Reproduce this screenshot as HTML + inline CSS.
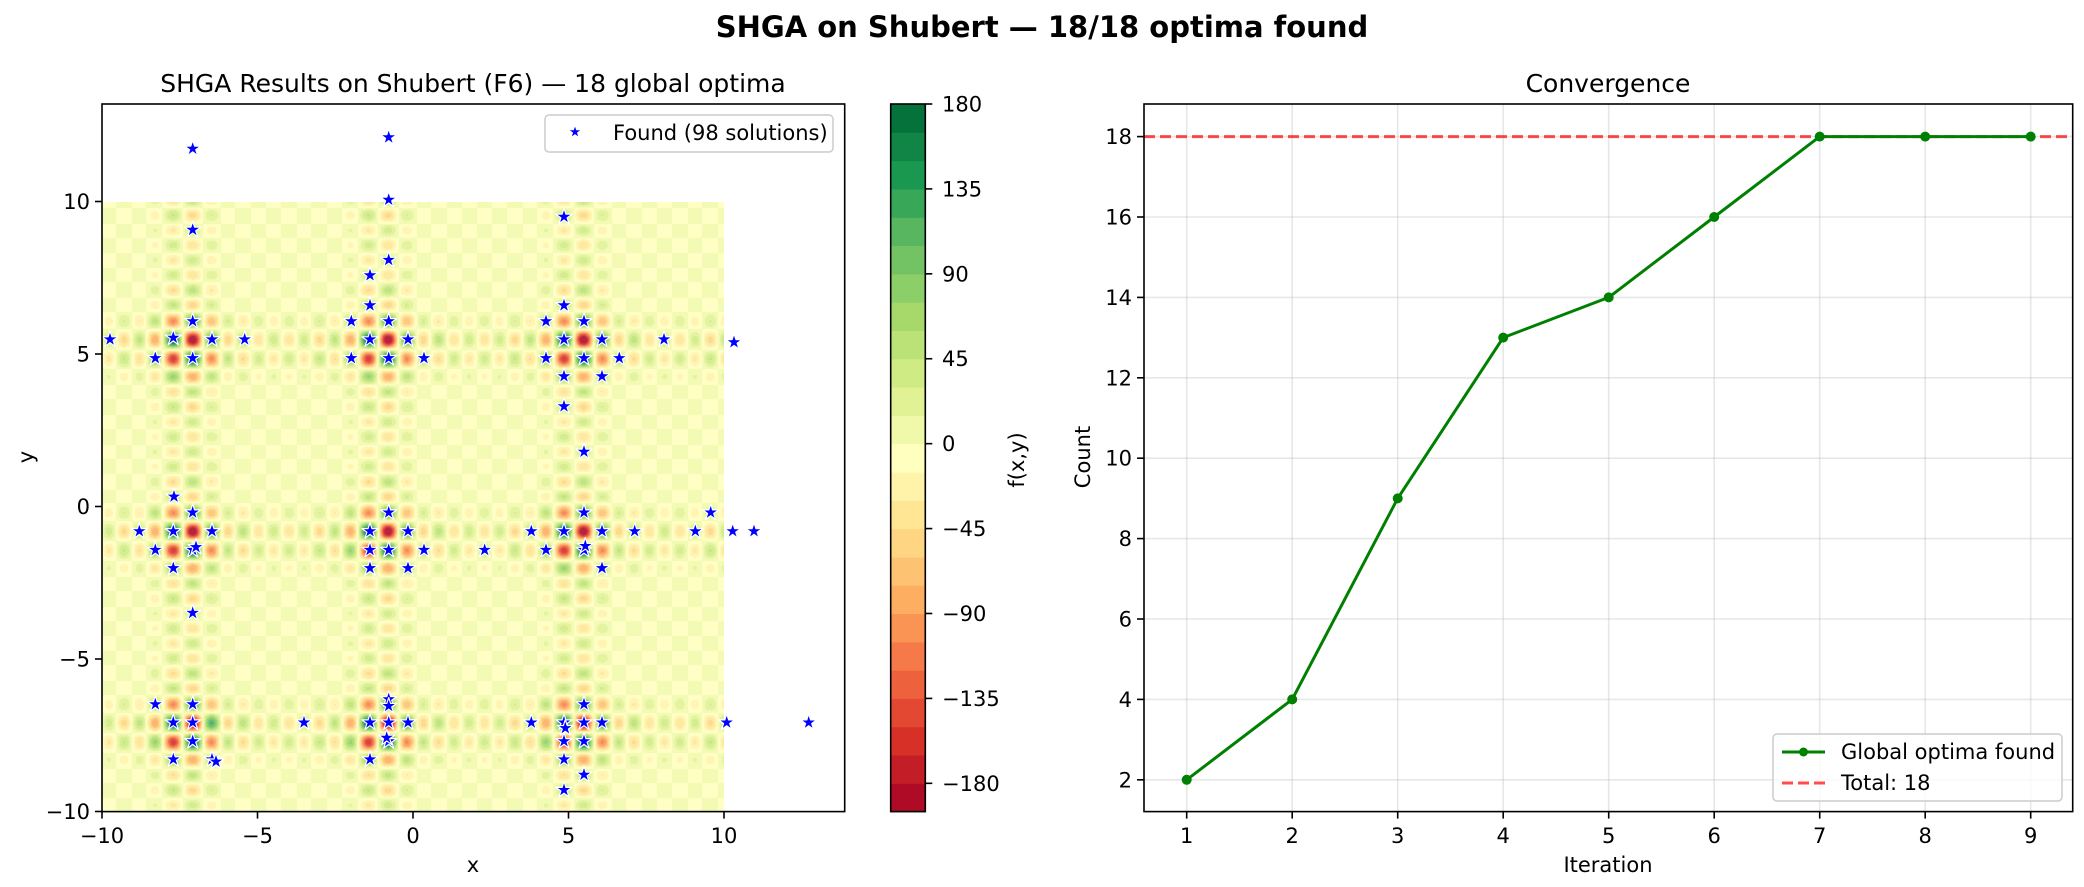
<!DOCTYPE html>
<html><head><meta charset="utf-8">
<style>
html,body{margin:0;padding:0;background:#fff;}
#wrap{position:relative;width:2084px;height:887px;overflow:hidden;background:#fff;}
svg{position:absolute;left:0;top:0;}
canvas{position:absolute;left:102px;top:202px;}
text{font-family:"DejaVu Sans","Liberation Sans",sans-serif;fill:#000;}
</style></head>
<body><div id="wrap">
<canvas id="hm" width="622" height="610"></canvas>
<svg id="sv" width="2084" height="887" viewBox="0 0 2084 887">
<text x="1042" y="37" font-size="29" font-weight="bold" text-anchor="middle">SHGA on Shubert — 18/18 optima found</text>
<text x="473" y="92" font-size="25" text-anchor="middle">SHGA Results on Shubert (F6) — 18 global optima</text>
<text x="1608" y="92" font-size="25" text-anchor="middle">Convergence</text>
<g id="left"></g>
<g id="cbar"></g>
<g id="right"></g>
<text x="473" y="872" font-size="21" text-anchor="middle">x</text>
<text x="1608" y="872" font-size="21" text-anchor="middle">Iteration</text>
<text transform="translate(33,457) rotate(-90)" font-size="21" text-anchor="middle">y</text>
<text transform="translate(1090,457) rotate(-90)" font-size="21" text-anchor="middle">Count</text>
<text transform="translate(1024,460) rotate(-90)" font-size="21" text-anchor="middle">f(x,y)</text>
<rect x="545" y="115" width="288" height="37" rx="4" fill="#fff" fill-opacity="0.8" stroke="#ccc" stroke-width="1.5"/>
<g id="legstar"></g>
<text x="613" y="140" font-size="21">Found (98 solutions)</text>
<rect x="1773" y="734" width="289" height="67" rx="4" fill="#fff" fill-opacity="0.8" stroke="#ccc" stroke-width="1.5"/>
<line x1="1782" y1="752" x2="1825" y2="752" stroke="#008000" stroke-width="3"/>
<circle cx="1803.5" cy="752" r="4.5" fill="#008000"/>
<text x="1841" y="759" font-size="21">Global optima found</text>
<line x1="1782" y1="783" x2="1825" y2="783" stroke="#ff0000" stroke-opacity="0.7" stroke-width="3" stroke-dasharray="11,5"/>
<text x="1841" y="790" font-size="21">Total: 18</text>
</svg>
</div>
<script>
(function(){
var cm=[[0,[165,0,38]],[0.1,[215,48,39]],[0.2,[244,109,67]],[0.3,[253,174,97]],[0.4,[254,224,139]],[0.5,[255,255,191]],[0.6,[217,239,139]],[0.7,[166,217,106]],[0.8,[102,189,99]],[0.9,[26,152,80]],[1,[0,104,55]]];
function cmap(t){for(var i=0;i<cm.length-1;i++){if(t<=cm[i+1][0]){var a=cm[i],b=cm[i+1],u=(t-a[0])/(b[0]-a[0]);return [0,1,2].map(function(k){return Math.round(a[1][k]+(b[1][k]-a[1][k])*u);});}}return cm[10][1];}
var band=[];for(var b=0;b<25;b++)band.push(cmap((b+0.5)/25));
function g(x){var s=0;for(var k=1;k<=5;k++)s+=k*Math.cos((k+1)*x+k);return s;}
var c=document.getElementById('hm'),ctx=c.getContext('2d'),W=622,H=610;
var img=ctx.createImageData(W,H),d=img.data,gx=[],gy=[];
for(var i=0;i<W;i++)gx.push(g(-10+(i+0.5)/W*20));
for(var j=0;j<H;j++)gy.push(g(10-(j+0.5)/H*20));
var al=0.9;
for(var j=0;j<H;j++)for(var i=0;i<W;i++){var f=-gx[i]*gy[j];var bi=Math.floor((f+195)/15);if(bi<0)bi=0;if(bi>24)bi=24;var col=band[bi],p=(j*W+i)*4;
d[p]=Math.round(col[0]*al+255*(1-al));d[p+1]=Math.round(col[1]*al+255*(1-al));d[p+2]=Math.round(col[2]*al+255*(1-al));d[p+3]=255;}
ctx.putImageData(img,0,0);

var NS='http://www.w3.org/2000/svg';
function el(parent,tag,attrs,txt){var e=document.createElementNS(NS,tag);for(var k in attrs)e.setAttribute(k,attrs[k]);if(txt!==undefined)e.textContent=txt;parent.appendChild(e);return e;}
function star(cx,cy,R){var r=R*0.38,pts=[];for(var k=0;k<10;k++){var a=-Math.PI/2+k*Math.PI/5,rr=k%2?r:R;pts.push((cx+rr*Math.cos(a)).toFixed(1)+','+(cy+rr*Math.sin(a)).toFixed(1));}return pts.join(' ');}
var L=document.getElementById('left');
var xl=102,xr=844.7,yt=104,yb=811.6;
function X(v){return 413+v*31.1;} function Y(v){return 506.5-v*30.5;}
[-10,-5,0,5,10].forEach(function(v){var x=X(v);el(L,'line',{x1:x,y1:yb,x2:x,y2:yb+7,stroke:'#000','stroke-width':1.6});el(L,'text',{x:x,y:843,'font-size':21,'text-anchor':'middle'},(v<0?'\u2212':'')+Math.abs(v));});
[-10,-5,0,5,10].forEach(function(v){var y=Y(v);el(L,'line',{x1:xl-7,y1:y,x2:xl,y2:y,stroke:'#000','stroke-width':1.6});el(L,'text',{x:90,y:y+7.5,'font-size':21,'text-anchor':'end'},(v<0?'\u2212':'')+Math.abs(v));});
var S=[[289,262],[583,242],[583,352],[289,405],[846,382],[583,458],[555,485],[555,538],[846,538],
[289,566],[527,566],[583,566],[819,566],[876,566],
[165,598],[260,595],[318,598],[367,598],[555,598],[612,598],[846,598],[903,598],[996,598],[1101,603],
[233,631],[289,631],[527,631],[583,631],[636,631],[819,631],[876,631],[929,631],
[846,663],[903,663],[846,716],[876,796],
[261,875],[289,903],[583,903],[876,903],[1066,903],
[209,936],[260,936],[318,936],[555,936],[612,936],[797,936],[846,936],[903,936],[952,936],[1043,936],[1099,936],[1131,936],
[233,969],[289,969],[294,964],[555,969],[583,969],[636,969],[727,969],[819,969],[876,969],[878,962],
[260,1001],[555,1001],[612,1001],[903,1001],[289,1080],
[233,1241],[289,1241],[583,1232],[583,1244],[876,1241],
[260,1273],[289,1273],[456,1273],[555,1273],[583,1273],[612,1273],[797,1273],[846,1273],[876,1273],[903,1273],[1090,1273],[1213,1273],[848,1283],
[289,1306],[583,1306],[876,1306],[580,1300],[846,1306],
[260,1338],[318,1338],[324,1342],[555,1338],[846,1338],[876,1365],[846,1392]];
S.forEach(function(p){el(L,'polygon',{points:star(p[0]/1.5,p[1]/1.762,8.5),fill:'#0000ff',stroke:'#fff','stroke-width':1.2,'stroke-linejoin':'round'});});
el(L,'rect',{x:xl,y:yt,width:xr-xl,height:yb-yt,fill:'none',stroke:'#000','stroke-width':1.6});
el(document.getElementById('legstar'),'polygon',{points:star(575,132,7),fill:'#0000ff',stroke:'#fff','stroke-width':1});

var C=document.getElementById('cbar');var cx0=890.7,cw=34.6,ph=707.6/25;
for(var b=0;b<25;b++){var col=band[b];el(C,'rect',{x:cx0,y:(811.6-(b+1)*ph).toFixed(2),width:cw,height:(ph+0.6).toFixed(2),fill:'rgb('+col.join(',')+')'});}
el(C,'rect',{x:cx0,y:104,width:cw,height:707.6,fill:'none',stroke:'#000','stroke-width':1.6});
[180,135,90,45,0,-45,-90,-135,-180].forEach(function(v){var y=104+(180-v)*1.887;el(C,'line',{x1:cx0+cw,y1:y,x2:cx0+cw+7,y2:y,stroke:'#000','stroke-width':1.6});el(C,'text',{x:942,y:y+7.5,'font-size':21},(v<0?'\u2212':'')+Math.abs(v));});

var R=document.getElementById('right');var rl=1144,rr=2072.7;
function RX(i){return 1186.7+(i-1)*105.5;} function RY(c){return 779.8-(c-2)*40.2;}
for(var i=1;i<=9;i++){var x=RX(i);el(R,'line',{x1:x,y1:yt,x2:x,y2:yb,stroke:'#b0b0b0','stroke-opacity':0.3,'stroke-width':1.6});el(R,'line',{x1:x,y1:yb,x2:x,y2:yb+7,stroke:'#000','stroke-width':1.6});el(R,'text',{x:x,y:843,'font-size':21,'text-anchor':'middle'},''+i);}
for(var c2=2;c2<=18;c2+=2){var y=RY(c2);el(R,'line',{x1:rl,y1:y,x2:rr,y2:y,stroke:'#b0b0b0','stroke-opacity':0.3,'stroke-width':1.6});el(R,'line',{x1:rl-7,y1:y,x2:rl,y2:y,stroke:'#000','stroke-width':1.6});el(R,'text',{x:1132,y:y+7.5,'font-size':21,'text-anchor':'end'},''+c2);}
el(R,'line',{x1:rl,y1:RY(18),x2:rr,y2:RY(18),stroke:'#ff0000','stroke-opacity':0.7,'stroke-width':3,'stroke-dasharray':'11,5'});
var vals=[2,4,9,13,14,16,18,18,18],pts=vals.map(function(v,k){return RX(k+1).toFixed(1)+','+RY(v).toFixed(1);}).join(' ');
el(R,'polyline',{points:pts,fill:'none',stroke:'#008000','stroke-width':3,'stroke-linejoin':'round'});
vals.forEach(function(v,k){el(R,'circle',{cx:RX(k+1),cy:RY(v),r:5,fill:'#008000'});});
el(R,'rect',{x:rl,y:yt,width:rr-rl,height:yb-yt,fill:'none',stroke:'#000','stroke-width':1.6});
})();
</script>
</body></html>
